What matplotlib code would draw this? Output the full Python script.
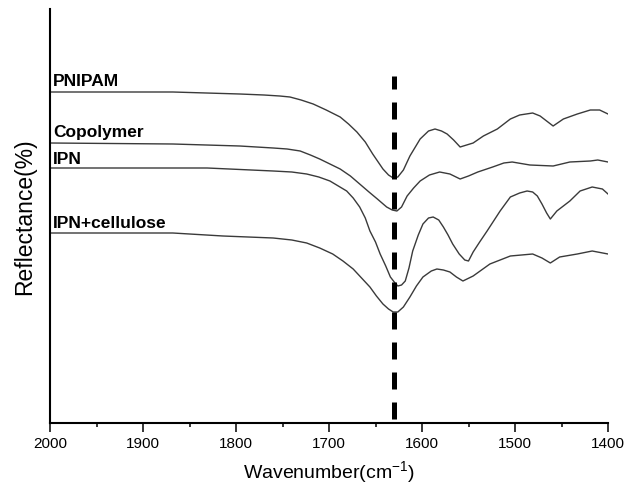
import matplotlib
matplotlib.use("Agg")
import matplotlib.pyplot as plt
from matplotlib.ticker import MultipleLocator

# ---- data (wavenumber in cm-1, reflectance in arbitrary units, stacked) ----
pnipam_wn = [2000, 1868, 1796, 1770, 1753, 1742, 1730, 1717, 1703, 1688, 1679, 1670,
             1661, 1653, 1642, 1636, 1631, 1626, 1620, 1613, 1602, 1593, 1586, 1579,
             1573, 1566, 1559, 1552, 1545, 1534, 1519, 1505, 1495, 1481, 1473, 1466,
             1459, 1448, 1433, 1419, 1409, 1400]
pnipam_val = [331, 331, 329, 328, 327, 326, 323, 319, 313, 306, 299, 291,
              281, 269, 254, 248, 245, 246, 253, 267, 284, 292, 294, 292,
              289, 283, 276, 278, 280, 287, 294, 304, 308, 310, 307, 302,
              297, 304, 309, 313, 313, 309]

copoly_wn = [2000, 1868, 1796, 1760, 1745, 1731, 1720, 1710, 1699, 1688, 1677, 1667,
             1657, 1648, 1638, 1632, 1627, 1622, 1616, 1609, 1602, 1592, 1581, 1570,
             1559, 1550, 1540, 1524, 1512, 1503, 1484, 1459, 1441, 1419, 1411, 1400]
copoly_val = [280, 279, 277, 275, 274, 272, 268, 264, 259, 254, 247, 239,
              231, 224, 216, 213, 212, 216, 227, 235, 242, 248, 251, 249,
              244, 247, 251, 256, 260, 261, 258, 257, 261, 262, 263, 261]

ipn_wn = [2000, 1831, 1760, 1740, 1724, 1711, 1699, 1690, 1681, 1674, 1667, 1661,
          1656, 1650, 1645, 1639, 1634, 1629, 1626, 1622, 1618, 1614, 1610, 1604,
          1599, 1593, 1588, 1582, 1577, 1572, 1567, 1560, 1554, 1550, 1545, 1538,
          1530, 1516, 1505, 1495, 1487, 1481, 1476, 1471, 1466, 1462, 1455, 1441,
          1430, 1417, 1406, 1400]
ipn_val = [255, 255, 252, 251, 249, 246, 242, 237, 232, 225, 216, 205,
           192, 181, 169, 157, 146, 140, 137, 138, 142, 155, 172, 188,
           199, 205, 206, 203, 196, 188, 179, 169, 163, 162, 171, 181,
           192, 212, 226, 230, 232, 231, 227, 219, 210, 204, 212, 222,
           232, 236, 234, 229]

ipnc_wn = [2000, 1868, 1814, 1760, 1740, 1724, 1710, 1696, 1685, 1674, 1665, 1656,
           1649, 1642, 1636, 1631, 1626, 1620, 1613, 1606, 1599, 1590, 1584, 1577,
           1570, 1563, 1556, 1545, 1527, 1505, 1481, 1471, 1462, 1452, 1433, 1417,
           1400]
ipnc_val = [190, 190, 187, 185, 183, 180, 175, 169, 162, 154, 145, 136,
            127, 119, 114, 111, 111, 116, 126, 137, 146, 152, 154, 153,
            151, 146, 142, 147, 159, 167, 169, 165, 160, 166, 169, 172,
            169]

series = [
    ("PNIPAM", pnipam_wn, pnipam_val, 342),
    ("Copolymer", copoly_wn, copoly_val, 292),
    ("IPN", ipn_wn, ipn_val, 264),
    ("IPN+cellulose", ipnc_wn, ipnc_val, 201),
]

marker_wn = 1630          # C=O band marker
marker_span = (4, 347)

xticks = [2000, 1900, 1800, 1700, 1600, 1500, 1400]

# ---- figure ----
fig = plt.figure(figsize=(6.24, 4.89), dpi=100)
ax = fig.add_axes([50 / 624, 65 / 489, 558 / 624, 414 / 489])

for name, wn, val, ly in series:
    ax.plot(wn, val, color="#3a3a3a", lw=1.0)
    ax.text(1997, ly, name, ha="left", va="center", fontsize=12.5,
            fontweight="bold", family="Liberation Sans", color="black")

ax.vlines(marker_wn, *marker_span, colors="black", linewidth=3.6,
          linestyles=(0, (3.4, 2.6)))

ax.set_xlim(2000, 1400)
ax.set_ylim(0, 414)
ax.set_xticks(xticks)
ax.set_xticklabels([str(t) for t in xticks], family="Liberation Sans", fontsize=11)
ax.xaxis.set_minor_locator(MultipleLocator(50))
ax.tick_params(axis="x", which="major", direction="out", length=6.5, width=1.1, pad=3)
ax.tick_params(axis="x", which="minor", direction="out", length=3, width=1.1)
ax.set_yticks([])

for s in ("top", "right"):
    ax.spines[s].set_visible(False)
for s in ("left", "bottom"):
    ax.spines[s].set_linewidth(1.5)

ax.set_xlabel("Wavenumber(cm$^{\\mathregular{-1}}$)", family="Liberation Sans",
              fontsize=14, labelpad=6)
ax.set_ylabel("Reflectance(%)", family="Liberation Sans", fontsize=16.5, labelpad=10)

fig.savefig("out.png", dpi=100)
